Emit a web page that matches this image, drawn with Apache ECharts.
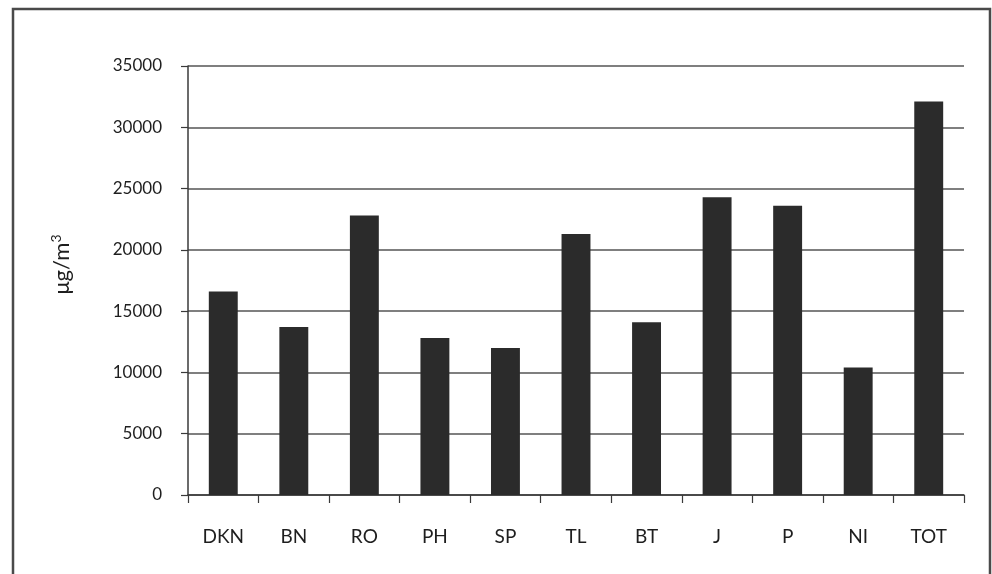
<!DOCTYPE html>
<html>
<head>
<meta charset="utf-8">
<script src="https://cdn.jsdelivr.net/npm/echarts@6/dist/echarts.min.js"></script>
<style>
  html, body { margin: 0; padding: 0; background: #fff; }
  #chart { width: 992px; height: 574px; }
</style>
</head>
<body>
<div id="chart"></div>
<script>
// Sampling sites and measured concentrations (µg/m³)
const categories = ['DKN', 'BN', 'RO', 'PH', 'SP', 'TL', 'BT', 'J', 'P', 'NI', 'TOT'];
const concentrations = [16600, 13700, 22800, 12800, 12000, 21300, 14100, 24300, 23600, 10400, 32100];
const yMin = 0;
const yMax = 35000;
const yStep = 5000;

const chart = echarts.init(document.getElementById('chart'));
const font = 'Lato, "Open Sans", sans-serif';
const ink = '#1e1e1e';

chart.setOption({
  backgroundColor: '#ffffff',
  animation: false,
  grid: { left: 188, right: 28, top: 66, bottom: 79 },
  graphic: [
    {
      // outer frame around the whole figure
      type: 'rect',
      shape: { x: 13, y: 9, width: 977, height: 590 },
      style: { fill: 'none', stroke: '#4a4a4a', lineWidth: 2.5 },
      silent: true
    }
  ],
  xAxis: {
    type: 'category',
    data: categories,
    axisLine: { show: true, lineStyle: { color: '#3a3a3a', width: 1.5 } },
    axisTick: { show: true, alignWithLabel: false, length: 8, lineStyle: { color: '#3a3a3a', width: 1.2 } },
    axisLabel: { color: ink, fontFamily: font, fontSize: 19, margin: 32 }
  },
  yAxis: {
    type: 'value',
    min: yMin,
    max: yMax,
    interval: yStep,
    name: 'μg/m{sup|3}',
    nameLocation: 'middle',
    nameGap: 114,
    nameRotate: 90,
    nameTextStyle: {
      color: ink, fontFamily: font, fontSize: 22,
      padding: [0, 0, 0, 32],
      rich: { sup: { fontFamily: font, fontSize: 14, color: ink, verticalAlign: 'top', padding: [0, 0, 11, 0] } }
    },
    axisLine: { show: true, lineStyle: { color: '#3a3a3a', width: 1.5 } },
    axisTick: { show: true, length: 7, lineStyle: { color: '#3a3a3a', width: 1.2 } },
    axisLabel: {
      color: ink, fontFamily: font, fontSize: 17, margin: 26,
      formatter: (v) => String(v)
    },
    splitLine: { show: true, lineStyle: { color: '#555555', width: 1.5 } }
  },
  series: [
    {
      type: 'bar',
      data: concentrations,
      barWidth: '41%',
      itemStyle: { color: '#2b2b2b' }
    }
  ]
});
</script>
</body>
</html>
